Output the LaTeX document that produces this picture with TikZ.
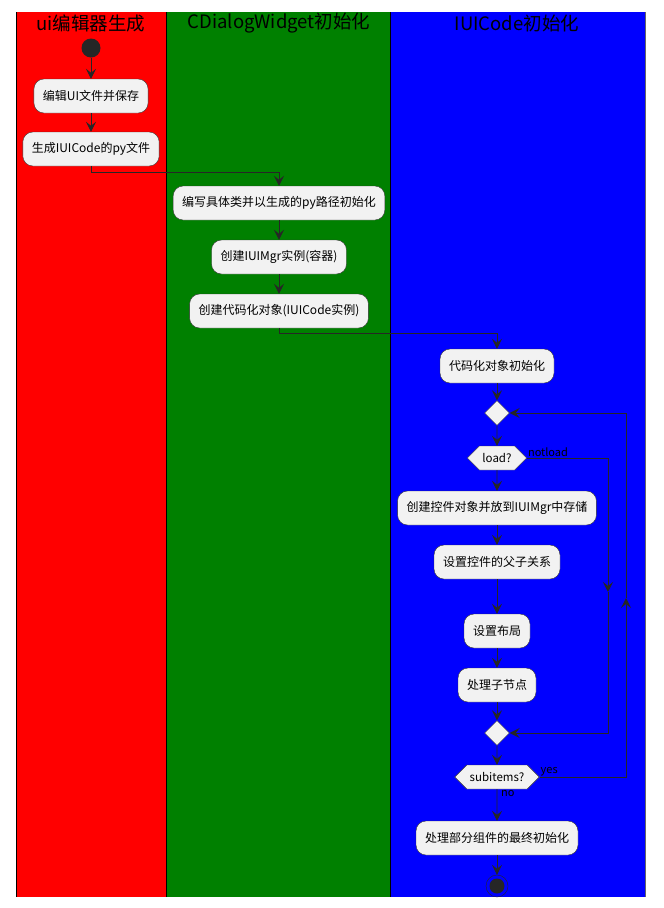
\documentclass[tikz,border=0pt]{standalone}
\usepackage{fontspec}
\setmainfont{Noto Sans CJK SC}
\usetikzlibrary{shapes.geometric,shapes.symbols,arrows.meta}

\begin{document}
\begin{tikzpicture}[x=1pt, y=-1pt,
      lane/.style={draw=black, line width=0.8pt},
      title/.style={font=\fontsize{18.5}{20}\selectfont},
      act/.style={rectangle, draw=black!80, fill=gray!10, rounded corners=10pt, minimum height=34pt, inner xsep=9pt, font=\fontsize{12}{14}\selectfont},
      merge/.style={diamond, draw=black!80, fill=gray!10, minimum size=25pt, inner sep=0pt},
      test/.style={signal, signal to=east and west, draw=black!80, fill=gray!10, minimum height=24pt, inner xsep=3pt, font=\fontsize{11.5}{13}\selectfont},
      startnode/.style={circle, fill=black!85, minimum size=19pt, inner sep=0pt},
      stopnode/.style={circle, draw=black!85, minimum size=22pt, inner sep=0pt, path picture={\fill[black!85] (path picture bounding box.center) circle (7.5pt);}},
      flow/.style={-{Stealth[length=10pt, width=10pt, inset=4pt]}, draw=black!85, line width=0.9pt},
      guard/.style={font=\fontsize{11}{12}\selectfont, inner sep=1pt}
    ]
      \useasboundingbox (0,0) rectangle (664,908);

      % swimlanes
      \fill[red] (16,12) rectangle (166,897);
      \fill[green!50!black] (166,12) rectangle (390,897);
      \fill[blue] (390,12) rectangle (645,897);
      \draw[lane] (16,12) -- (16,897);
      \draw[lane] (166,12) -- (166,897);
      \draw[lane] (390,12) -- (390,897);
      \draw[lane, black!60] (645,12) -- (645,897);
      \node[title] (t1) at (91,23) {ui编辑器生成};
      \node[title] (t2) at (279,23) {CDialogWidget初始化};
      \node[title] (t3) at (517,23) {IUICode初始化};

      % ui editor
      \node[startnode] (start) at (91,48) {};
      \node[act] (edit) at (91,96) {编辑UI文件并保存};
      \node[act] (gen) at (91,149) {生成IUICode的py文件};

      % CDialogWidget
      \node[act] (cls) at (279,203) {编写具体类并以生成的py路径初始化};
      \node[act] (mgr) at (279,257) {创建IUIMgr实例(容器)};
      \node[act] (obj) at (279,311) {创建代码化对象(IUICode实例)};

      % IUICode
      \node[act] (init) at (497,366) {代码化对象初始化};
      \node[merge] (loop) at (497,413) {};
      \node[test] (load) at (497,458) {load?};
      \node[act] (ctrl) at (497,508) {创建控件对象并放到IUIMgr中存储};
      \node[act] (parent) at (497,562) {设置控件的父子关系};
      \node[act] (layout) at (497,631) {设置布局};
      \node[act] (child) at (497,685) {处理子节点};
      \node[merge] (join) at (497,733) {};
      \node[test] (sub) at (497,777) {subitems?};
      \node[act] (final) at (497,838) {处理部分组件的最终初始化};
      \node[stopnode] (stop) at (497,886) {};

      \coordinate (skip) at (608,592);
      \coordinate (back) at (626,598);

      \draw[flow] (start) -- (edit);
      \draw[flow] (edit) -- (gen);
      \draw[flow] (gen.south) -- ++(0,6) -| (cls.north);
      \draw[flow] (cls) -- (mgr);
      \draw[flow] (mgr) -- (obj);
      \draw[flow] (obj.south) -- ++(0,5) -| (init.north);
      \draw[flow] (init) -- (loop);
      \draw[flow] (loop) -- (load);
      \draw[flow] (load) -- (ctrl);
      \draw[flow] (ctrl) -- (parent);
      \draw[flow] (parent) -- (layout);
      \draw[flow] (layout) -- (child);
      \draw[flow] (child) -- (join);
      \draw[flow] (join) -- (sub);
      \draw[flow] (sub) -- (final);
      \draw[flow] (final) -- (stop);

      \draw[flow] (load.east) -| (skip);
      \draw[flow] (skip) |- (join.east);
      \draw[flow] (sub.east) -| (back);
      \draw[flow] (back) |- (loop.east);

      \node[guard, anchor=south west] (notload) at (load.east) {notload};
      \node[guard, anchor=south west] (yes) at (sub.east) {yes};
      \node[guard, anchor=north west] (no) at ([xshift=3pt]sub.south) {no};
    \end{tikzpicture}
\end{document}
